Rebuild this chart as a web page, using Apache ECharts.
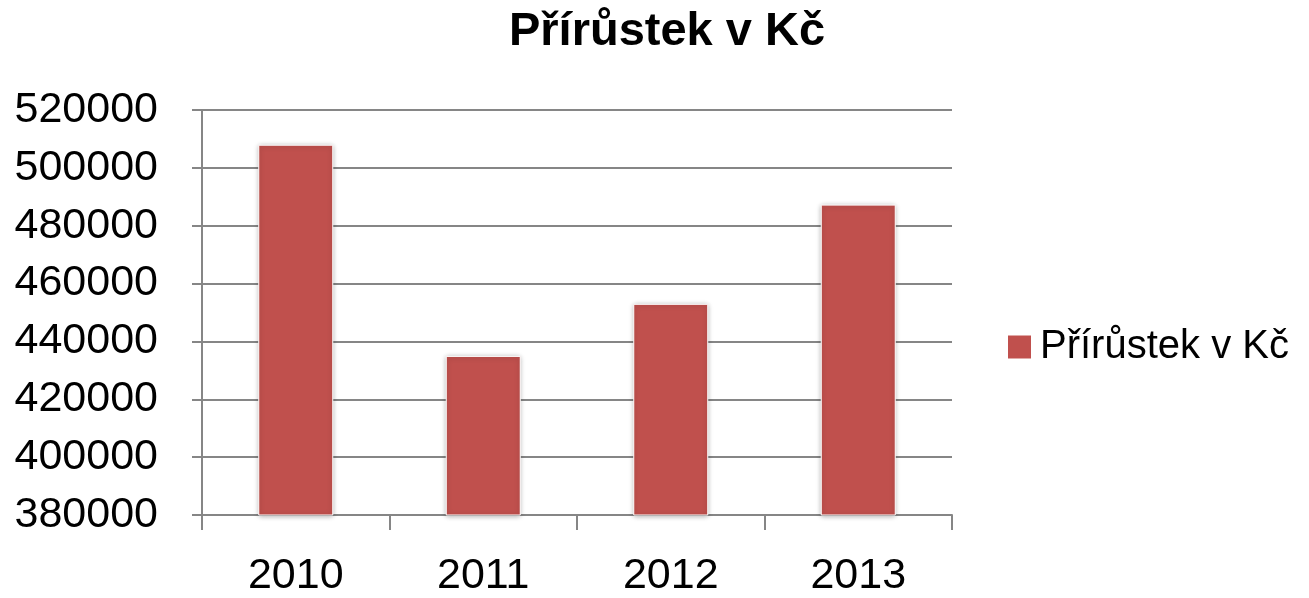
<!DOCTYPE html>
<html>
<head>
<meta charset="utf-8">
<script src="https://cdn.jsdelivr.net/npm/echarts@6/dist/echarts.min.js"></script>
<style>
	html, body { margin: 0; padding: 0; background: #fff; }
	#chart { width: 1309px; height: 598px; }
</style>
</head>
<body>
<div id="chart"></div>
<script>
	// data
	const years = ['2010', '2011', '2012', '2013'];
	const prirustek = [508000, 435000, 453000, 487300];
	const seriesName = 'Přírůstek v Kč';

	const font = 'Liberation Sans, Arial, sans-serif';
	let chart = echarts.init(document.getElementById('chart'));
	const option = {
		title: {
			text: 'Přírůstek v Kč',
			left: 662,
			textAlign: 'center',
			top: 4,
			textStyle: {
				color: '#000',
				fontFamily: font,
				fontWeight: 'bold',
				fontSize: 47
			}
		},
		legend: {
			data: [seriesName],
			left: 1001,
			top: 322,
			itemWidth: 25,
			itemHeight: 25,
			itemGap: 10,
			icon: 'rect',
			textStyle: {
				color: '#000',
				fontFamily: font,
				fontSize: 40,
				padding: [0, 0, 0, 3]
			}
		},
		grid: {
			left: 202,
			right: 357,
			top: 110,
			bottom: 81
		},
		xAxis: {
			type: 'category',
			data: years,
			axisLine: { lineStyle: { color: '#868686', width: 2 } },
			axisTick: { show: true, length: 15, lineStyle: { color: '#868686', width: 2 } },
			axisLabel: {
				color: '#000',
				fontFamily: font,
				fontSize: 43,
				margin: 40
			}
		},
		yAxis: {
			type: 'value',
			min: 380000,
			max: 520000,
			interval: 20000,
			axisLine: { show: true, lineStyle: { color: '#868686', width: 2 } },
			axisTick: { show: true, length: 10, lineStyle: { color: '#868686', width: 2 } },
			splitLine: { lineStyle: { color: '#868686', width: 2 } },
			axisLabel: {
				color: '#000',
				fontFamily: font,
				fontSize: 43,
				margin: 44,
				formatter: function(v) {
					return String(v);
				}
			}
		},
		series: [{
			name: seriesName,
			type: 'bar',
			data: prirustek,
			barWidth: '40%',
			itemStyle: {
				color: '#C0504D',
				borderColor: '#fff',
				borderWidth: 1,
				shadowBlur: 5,
				shadowColor: 'rgba(0,0,0,0.3)',
				shadowOffsetY: 1
			}
		}]
	};
	chart.setOption(option);
</script>
</body>
</html>
